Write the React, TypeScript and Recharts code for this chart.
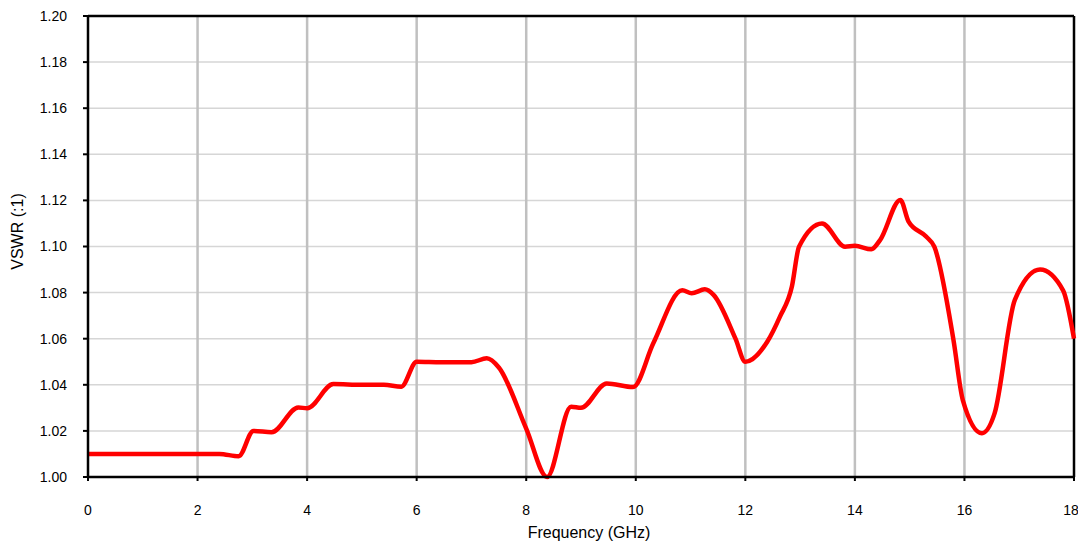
import {
  CartesianGrid,
  Label,
  Line,
  LineChart,
  ReferenceLine,
  XAxis,
  YAxis,
} from "recharts";

const freqGhz = [
  0, 1, 2, 2.4, 2.75, 3.02, 3.35, 3.84, 4.0, 4.48, 5.0, 5.4, 5.72, 6.0, 6.45, 7.0, 7.28,
  7.5, 8.0, 8.38, 8.82, 9.0, 9.47, 9.95, 10.32, 10.85, 11.02, 11.26, 11.42, 11.82, 12.0,
  12.4, 12.63, 12.85, 12.98, 13.4, 13.82, 14.0, 14.3, 14.46, 14.83, 14.98, 15.3, 15.45,
  15.8, 15.97, 16.32, 16.55, 16.92, 17.38, 17.8, 18,
];
const vswr = [
  1.01, 1.01, 1.01, 1.01, 1.009, 1.02, 1.0194, 1.0302, 1.0298, 1.0403, 1.04, 1.04, 1.0392,
  1.05, 1.0498, 1.0498, 1.0515, 1.0475, 1.021, 1.0, 1.0305, 1.03, 1.0406, 1.039, 1.058,
  1.081, 1.0797, 1.0814, 1.079, 1.06, 1.05, 1.0587, 1.0695, 1.0826, 1.0999, 1.11, 1.0999,
  1.1003, 1.0988, 1.1028, 1.1202, 1.1108, 1.1043, 1.0999, 1.0594, 1.0334, 1.019, 1.0276,
  1.0768, 1.09, 1.081, 1.06,
];
const xTicks = [0, 2, 4, 6, 8, 10, 12, 14, 16, 18];
const yTicks = [1.0, 1.02, 1.04, 1.06, 1.08, 1.1, 1.12, 1.14, 1.16, 1.18, 1.2];

const data = freqGhz.map((f, i) => ({ f, v: vswr[i] }));

const font = "'Liberation Sans', Arial, sans-serif";

export default function App() {
  return (
    <div style={{ width: 1070, height: 536, fontFamily: font }}>
      {/* the last tick label hangs past the svg box */}
      <style>
        {"html{overflow:hidden} .recharts-wrapper,.recharts-surface{overflow:visible !important}"}
      </style>
      <LineChart
        width={1070}
        height={536}
        data={data}
        margin={{ top: 8, right: 4, left: 0, bottom: 0 }}
      >
        <CartesianGrid vertical={false} stroke="#d6d6d6" strokeWidth={1.5} />
        {xTicks.slice(1, -1).map((x) => (
          <ReferenceLine key={x} x={x} stroke="#c0c0c0" strokeWidth={2.5} />
        ))}
        <ReferenceLine y={1.2} stroke="#000" strokeWidth={2.5} />
        <ReferenceLine x={18} stroke="#000" strokeWidth={2.5} />
        <XAxis
          dataKey="f"
          type="number"
          domain={[0, 18]}
          ticks={xTicks}
          height={67}
          tickSize={4}
          tickMargin={24}
          axisLine={{ stroke: "#000", strokeWidth: 2.5 }}
          tickLine={{ stroke: "#000", strokeWidth: 2 }}
          tick={{ fill: "#000", fontSize: 14, fontFamily: font }}
        >
          <Label
            value="Frequency (GHz)"
            position="insideBottom"
            offset={6}
            dx={8}
            style={{ fill: "#000", fontSize: 16, fontFamily: font }}
          />
        </XAxis>
        <YAxis
          type="number"
          domain={[1, 1.2]}
          ticks={yTicks}
          width={80}
          tickSize={5}
          tickMargin={16}
          tickFormatter={(v: number) => v.toFixed(2)}
          axisLine={{ stroke: "#000", strokeWidth: 2.5 }}
          tickLine={{ stroke: "#000", strokeWidth: 2 }}
          tick={{ fill: "#000", fontSize: 14, fontFamily: font }}
        >
          <Label
            value="VSWR (:1)"
            position="insideLeft"
            angle={-90}
            offset={9}
            dy={-15}
            style={{ fill: "#000", fontSize: 16, fontFamily: font, textAnchor: "middle" }}
          />
        </YAxis>
        <Line
          type="monotone"
          dataKey="v"
          stroke="#ff0000"
          strokeWidth={4.5}
          dot={false}
          isAnimationActive={false}
        />
      </LineChart>
    </div>
  );
}
